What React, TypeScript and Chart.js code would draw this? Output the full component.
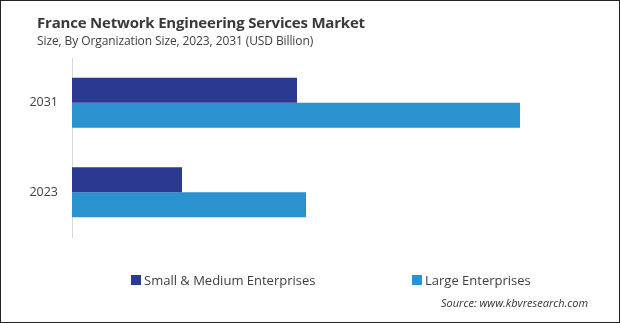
import React, { useEffect, useRef } from 'react';
import { Chart, registerables } from 'chart.js';

Chart.register(...registerables);

const categories = ['2031', '2023'];
const smeValues = [2.25, 1.1];
const largeValues = [4.48, 2.34];
const seriesNames = ['Small & Medium Enterprises', 'Large Enterprises'];
const seriesColors = ['#2B3990', '#2B92D0'];
const titleText = 'France Network Engineering Services Market';
const subtitleText = 'Size, By Organization Size, 2023, 2031 (USD Billion)';
const sourceText = 'Source: www.kbvresearch.com';
const xMin = 0;
const xMax = 5.2;

const FONT = "'Open Sans', 'DejaVu Sans', sans-serif";

export default function App() {
  const canvasRef = useRef<HTMLCanvasElement | null>(null);

  useEffect(() => {
    const canvas = canvasRef.current;
    if (!canvas) return;
    const chart = new Chart(canvas, {
      type: 'bar',
      data: {
        labels: categories,
        datasets: [
          {
            label: seriesNames[0],
            data: smeValues,
            backgroundColor: seriesColors[0],
            borderWidth: 0,
            barPercentage: 1,
            categoryPercentage: 0.56,
          },
          {
            label: seriesNames[1],
            data: largeValues,
            backgroundColor: seriesColors[1],
            borderWidth: 0,
            barPercentage: 1,
            categoryPercentage: 0.56,
          },
        ],
      },
      options: {
        indexAxis: 'y',
        responsive: false,
        animation: false,
        devicePixelRatio: 1,
        layout: { padding: { top: 58, bottom: 86, right: 28, left: 0 } },
        plugins: {
          legend: { display: false },
          title: { display: false },
          tooltip: { enabled: false },
        },
        scales: {
          x: { display: false, min: xMin, max: xMax },
          y: {
            grid: { display: true, drawOnChartArea: false, drawTicks: false },
            border: { display: true, color: '#d9d9d9', width: 1 },
            ticks: {
              padding: 14,
              color: '#404040',
              font: { family: FONT, size: 12.5 },
            },
            afterFit: (scale: any) => {
              scale.width = 72;
            },
          },
        },
      },
    });
    return () => chart.destroy();
  }, []);

  const legendItems = [
    { name: seriesNames[0], color: seriesColors[0], left: 131 },
    { name: seriesNames[1], color: seriesColors[1], left: 412 },
  ];

  return (
    <div
      style={{
        position: 'fixed',
        left: 0,
        top: 0,
        width: 620,
        height: 323,
        background: '#fff',
        fontFamily: FONT,
        overflow: 'hidden',
      }}
    >
      <canvas
        ref={canvasRef}
        width={620}
        height={323}
        style={{ position: 'absolute', left: 0, top: 0, width: 620, height: 323 }}
      />
      <div
        style={{
          position: 'absolute',
          left: 37,
          top: 15,
          fontSize: 15,
          lineHeight: '15px',
          fontWeight: 700,
          letterSpacing: '-0.2px',
          color: '#3a3a3a',
          whiteSpace: 'nowrap',
        }}
      >
        {titleText}
      </div>
      <div
        style={{
          position: 'absolute',
          left: 37,
          top: 35,
          fontSize: 12,
          lineHeight: '12px',
          letterSpacing: '-0.1px',
          color: '#404040',
          whiteSpace: 'nowrap',
        }}
      >
        {subtitleText}
      </div>
      {legendItems.map((it) => (
        <div
          key={it.name}
          style={{
            position: 'absolute',
            left: it.left,
            top: 273,
            height: 14,
            display: 'flex',
            alignItems: 'center',
            whiteSpace: 'nowrap',
          }}
        >
          <span
            style={{
              display: 'inline-block',
              width: 10,
              height: 10,
              background: it.color,
              marginRight: 3,
            }}
          />
          <span style={{ fontSize: 13, lineHeight: '14px', color: '#404040' }}>{it.name}</span>
        </div>
      ))}
      <div
        style={{
          position: 'absolute',
          left: 441,
          top: 297,
          fontSize: 11,
          lineHeight: '11px',
          fontStyle: 'italic',
          color: '#333',
          whiteSpace: 'nowrap',
        }}
      >
        {sourceText}
      </div>
      <div
        style={{
          position: 'absolute',
          left: 0,
          top: 0,
          width: 620,
          height: 323,
          boxSizing: 'border-box',
          border: '1px solid #222',
          pointerEvents: 'none',
        }}
      />
    </div>
  );
}
